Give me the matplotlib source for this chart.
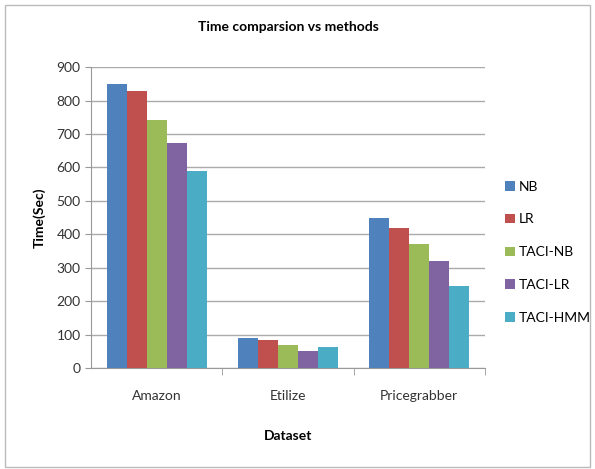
import matplotlib.pyplot as plt
import numpy as np
from matplotlib.patches import Rectangle

datasets = ["Amazon", "Etilize", "Pricegrabber"]
methods = ["NB", "LR", "TACI-NB", "TACI-LR", "TACI-HMM"]
nb = [850, 90, 450]
lr = [828, 83, 420]
taci_nb = [742, 70, 370]
taci_lr = [673, 52, 319]
taci_hmm = [588, 64, 246]
colors = ["#4F81BD", "#C0504D", "#9BBB59", "#8064A2", "#4BACC6"]

plt.rcParams["font.family"] = ["Lato", "DejaVu Sans"]

fig = plt.figure(figsize=(5.95, 4.69), dpi=100)
ax = fig.add_axes([0.153, 0.215, 0.662, 0.642])

series = [nb, lr, taci_nb, taci_lr, taci_hmm]
x = np.arange(len(datasets))
width = 0.152
for i, (name, vals, c) in enumerate(zip(methods, series, colors)):
    ax.bar(x + (i - 2) * width, vals, width, color=c, label=name, zorder=3)

ax.set_xlim(-0.5, 2.5)
ax.set_ylim(0, 900)
ax.set_yticks(range(0, 901, 100))
ax.set_xticks(x)
ax.set_xticklabels(datasets, fontsize=10, color="#333333")
ax.tick_params(axis="y", labelsize=10, colors="#333333", length=4, color="#999999")
ax.tick_params(axis="x", length=0, pad=16)
# category separator ticks
ax.set_xticks([0.5, 1.5, 2.5], minor=True)
ax.tick_params(axis="x", which="minor", length=5, color="#999999")
ax.grid(axis="y", color="#AAAAAA", linewidth=1, zorder=0)

for side in ["top", "right"]:
    ax.spines[side].set_visible(False)
ax.spines["left"].set_color("#999999")
ax.spines["bottom"].set_color("#999999")

ax.set_title("Time comparsion vs methods", fontsize=10, fontweight="bold", pad=26)
ax.set_ylabel("Time(Sec)", fontsize=10, fontweight="bold", labelpad=8)
ax.set_xlabel("Dataset", fontsize=10, fontweight="bold", labelpad=20)

leg = ax.legend(loc="center left", bbox_to_anchor=(1.02, 0.385), frameon=False,
                fontsize=10, handlelength=0.7, handleheight=0.7,
                labelspacing=1.5, handletextpad=0.3)

fig.patches.append(Rectangle((0.008, 0.004), 0.984, 0.986, transform=fig.transFigure,
                             fill=False, edgecolor="#BBBBBB", linewidth=1))

fig.savefig("out.png", dpi=100)
